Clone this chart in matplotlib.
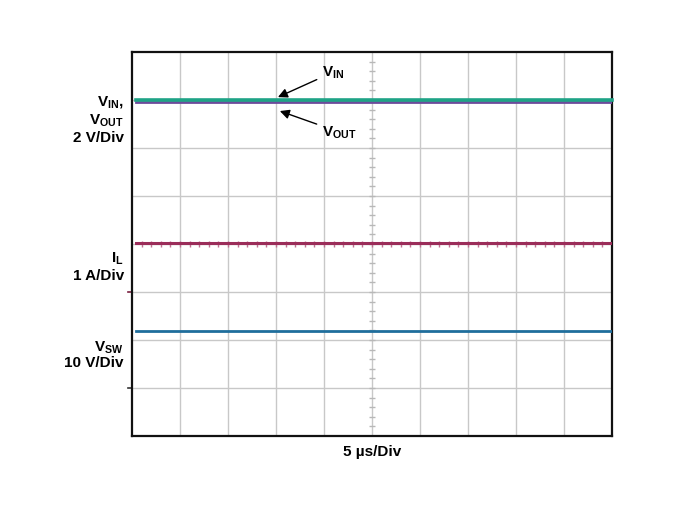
import numpy as np
import matplotlib.pyplot as plt

plt.rcParams['font.family'] = ['Liberation Sans Narrow', 'Liberation Sans', 'DejaVu Sans']
plt.rcParams['mathtext.fontset'] = 'custom'
plt.rcParams['mathtext.rm'] = 'Liberation Sans Narrow:bold'

# trace levels in divisions (0 = bottom of screen, 8 = top)
t_div = [0.08, 10.0]
v_in = [7.0, 7.0]
v_out = [6.95, 6.95]
i_l = [4.02, 4.02]
v_sw = [2.18, 2.18]
ground_marks = [3.0, 1.0]

fig = plt.figure(figsize=(6.83, 5.15), dpi=100)
ax = fig.add_axes([132 / 683, 79 / 515, 480 / 683, 384 / 515])
ax.set_xlim(0, 10)
ax.set_ylim(0, 8)

# graticule
for gx in range(1, 10):
    ax.axvline(gx, color='#c8c8c8', lw=1.0, zorder=1)
for gy in range(1, 8):
    ax.axhline(gy, color='#c8c8c8', lw=1.0, zorder=1)

# centre-line minor ticks
vy = np.arange(0.2, 8, 0.2)
hx = np.arange(0.2, 10, 0.2)
ax.plot(np.full(len(vy), 5.0), vy, ls='none', marker='_', ms=5, mew=1.0,
        color='#b8b8b8', zorder=1)
ax.plot(hx, np.full(len(hx), 4.0), ls='none', marker='|', ms=5, mew=1.0,
        color='#c07090', zorder=2)

ax.plot(t_div, v_in, color='#1ea386', lw=2.6, zorder=4, clip_on=False)
ax.plot(t_div, v_out, color='#6b4b9b', lw=2.0, zorder=3)
ax.plot(t_div, i_l, color='#9b2d5a', lw=2.2, zorder=3)
ax.plot(t_div, v_sw, color='#1f6e9c', lw=2.0, zorder=3)

# ground reference marks on the left edge
ax.plot([-0.09, 0], [ground_marks[0]] * 2, color='#7a2040', lw=1.2, clip_on=False)
ax.plot([-0.09, 0], [ground_marks[1]] * 2, color='#333333', lw=1.2, clip_on=False)

ax.set_xticks([])
ax.set_yticks([])
for s in ax.spines.values():
    s.set_linewidth(1.6)
    s.set_color('#111111')

fs = 11
sub = r'$_{\mathregular{%s}}$'
kw = dict(ha='right', va='center', fontsize=fs, fontweight='bold', clip_on=False)
ax.text(-0.17, 6.94, 'V' + sub % 'IN' + ',', **kw)
ax.text(-0.17, 6.56, 'V' + sub % 'OUT', **kw)
ax.text(-0.17, 6.21, '2 V/Div', **kw)
ax.text(-0.17, 3.69, 'I' + sub % 'L', **kw)
ax.text(-0.17, 3.33, '1 A/Div', **kw)
ax.text(-0.17, 1.85, 'V' + sub % 'SW', **kw)
ax.text(-0.17, 1.52, '10 V/Div', **kw)

arrow = dict(arrowstyle='-|>', color='black', lw=1.0, mutation_scale=14,
             shrinkA=2, shrinkB=0)
ax.annotate('V' + sub % 'IN', xy=(3.04, 7.06), xytext=(3.96, 7.58),
            fontsize=fs, fontweight='bold', va='center', ha='left', arrowprops=arrow)
ax.annotate('V' + sub % 'OUT', xy=(3.08, 6.77), xytext=(3.96, 6.33),
            fontsize=fs, fontweight='bold', va='center', ha='left', arrowprops=arrow)

ax.text(5.0, -0.34, '5 µs/Div', ha='center', va='center', fontsize=fs,
        fontweight='bold', clip_on=False)

fig.savefig('out.png', dpi=100)
